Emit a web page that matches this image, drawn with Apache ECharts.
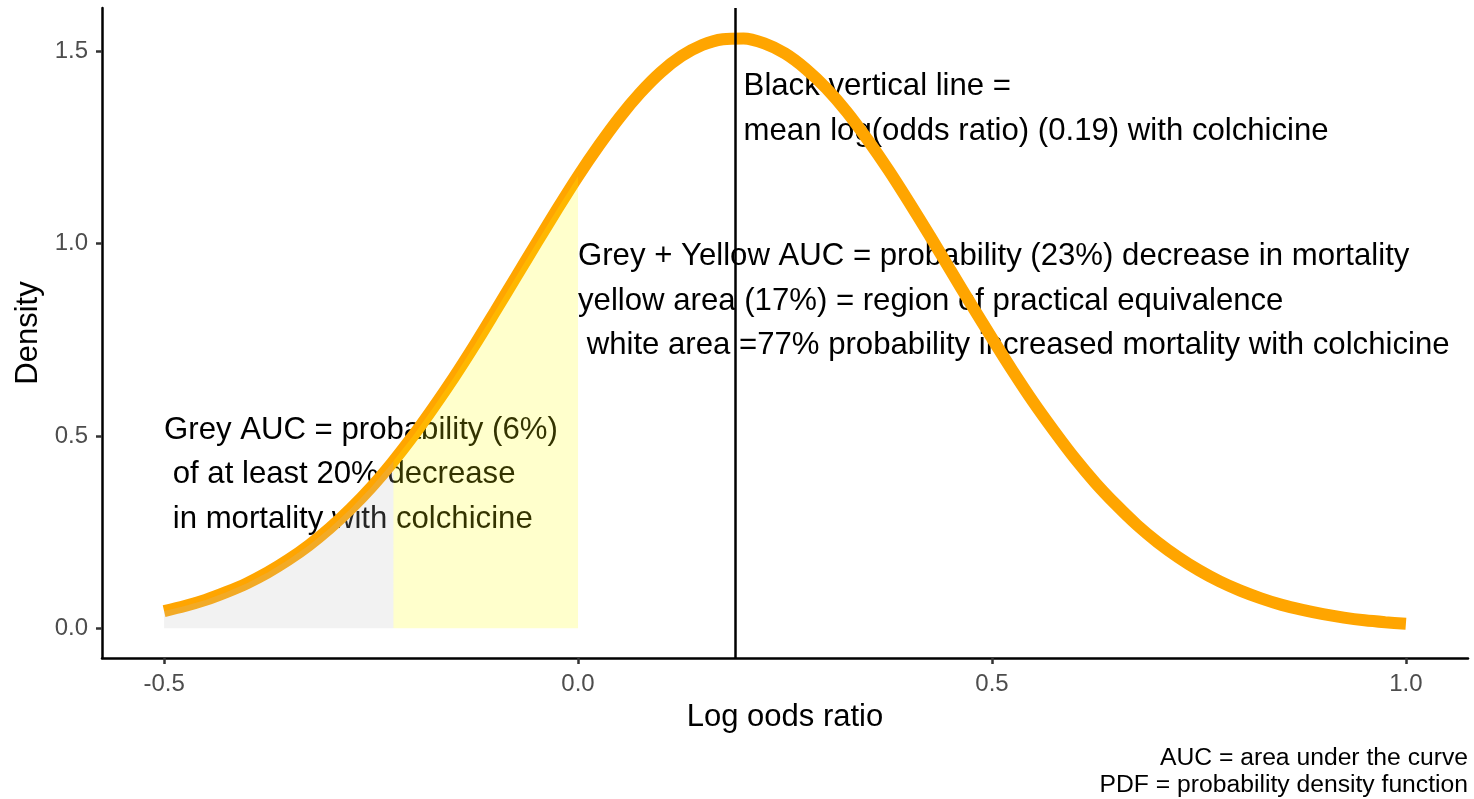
<!DOCTYPE html>
<html>
<head>
<meta charset="utf-8">
<script src="https://cdn.jsdelivr.net/npm/echarts@6/dist/echarts.min.js"></script>
<style>
html,body{margin:0;padding:0;background:#fff;}
#chart{width:1474px;height:799px;}
</style>
</head>
<body>
<div id="chart"></div>
<script>
// ---- data ----
const logOddsRatio = [-0.5,-0.475,-0.45,-0.425,-0.4,-0.375,-0.35,-0.325,-0.3,-0.275,-0.25,-0.225,-0.2,-0.175,-0.15,-0.125,-0.1,-0.075,-0.05,-0.025,0,
  0.025,0.05,0.075,0.1,0.125,0.15,0.175,0.2,0.225,0.25,0.275,0.3,0.325,0.35,0.375,0.4,0.425,0.45,0.475,0.5,
  0.525,0.55,0.575,0.6,0.625,0.65,0.675,0.7,0.725,0.75,0.775,0.8,0.825,0.85,0.875,0.9,0.925,0.95,0.975,1.0];
const density = [0.045,0.058,0.074,0.094,0.117,0.145,0.178,0.216,0.260,0.310,0.366,0.429,0.498,0.573,0.652,0.736,0.824,0.913,1.002,1.090,1.175,
  1.254,1.327,1.391,1.445,1.487,1.516,1.531,1.533,1.520,1.494,1.454,1.403,1.341,1.269,1.191,1.107,1.020,0.930,0.841,0.754,
  0.669,0.588,0.513,0.442,0.378,0.321,0.269,0.224,0.185,0.151,0.122,0.098,0.078,0.061,0.048,0.037,0.028,0.021,0.016,0.012];
const greyBoundary = [-0.223, 0.435];   // log(0.8): 20% decrease
const yellowUpper = 0;                  // no effect
const meanLogOR = 0.193;
const xTicks = [-0.5, 0.0, 0.5, 1.0];
const yTicks = [0.0, 0.5, 1.0, 1.5];
const annotationTexts = [
  "Black vertical line =\nmean log(odds ratio) (0.19) with colchicine",
  "Grey + Yellow AUC = probability (23%) decrease in mortality\nyellow area (17%) = region of practical equivalence\n white area =77% probability increased mortality with colchicine",
  "Grey AUC = probability (6%)\n of at least 20% decrease\n in mortality with colchicine"
];
const annotationAnchors = [[0.2, 1.35], [0.0, 0.85], [-0.5, 0.40]];
const captionLines = ["AUC = area under the curve", "PDF = probability density function"];
const xTitle = "Log oods ratio";
const yTitle = "Density";

// ---- build series data ----
const curve = logOddsRatio.map((x, i) => [x, density[i]]);
const greyData = curve.filter(p => p[0] < greyBoundary[0]).concat([greyBoundary]);
const yellowData = [greyBoundary].concat(curve.filter(p => p[0] > greyBoundary[0] && p[0] <= yellowUpper));

const FONT = '"Liberation Sans", Arial, Helvetica, sans-serif';
const chart = echarts.init(document.getElementById('chart'), null, { renderer: 'canvas' });

chart.setOption({
  animation: false,
  backgroundColor: '#ffffff',
  grid: { left: 102, right: 6, top: 8, bottom: 141, containLabel: false, outerBoundsMode: 'none' },
  xAxis: {
    type: 'value', min: -0.575, max: 1.075,
    name: xTitle, nameLocation: 'middle', nameGap: 44,
    nameTextStyle: { fontSize: 31, color: '#000', fontFamily: FONT },
    axisLine: { show: true, onZero: false, lineStyle: { color: '#000', width: 2.5 } },
    axisTick: { show: true, customValues: xTicks, length: 6, lineStyle: { color: '#333', width: 2.5 } },
    axisLabel: { customValues: xTicks, formatter: v => Number(v).toFixed(1), color: '#4d4d4d', fontSize: 24, fontFamily: FONT, margin: 14 },
    splitLine: { show: false }
  },
  yAxis: {
    type: 'value', min: -0.077, max: 1.612,
    name: yTitle, nameLocation: 'middle', nameGap: 48, nameRotate: 90,
    nameTextStyle: { fontSize: 31, color: '#000', fontFamily: FONT },
    axisLine: { show: true, onZero: false, lineStyle: { color: '#000', width: 2.5 } },
    axisTick: { show: true, customValues: yTicks, length: 6, lineStyle: { color: '#333', width: 2.5 } },
    axisLabel: { customValues: yTicks, formatter: v => Number(v).toFixed(1), color: '#4d4d4d', fontSize: 24, fontFamily: FONT, margin: 14 },
    splitLine: { show: false }
  },
  series: [
    {
      type: 'line', z: 2, silent: true, showSymbol: false, smooth: 0.3,
      data: curve,
      lineStyle: { color: '#FFA500', width: 12, cap: 'butt' }
    },
    {
      type: 'line', z: 3, silent: true, showSymbol: false,
      data: greyData,
      lineStyle: { width: 0, opacity: 0 },
      areaStyle: { color: 'rgba(190,190,190,0.2)', opacity: 1, origin: 0 }
    },
    {
      type: 'line', z: 3, silent: true, showSymbol: false,
      data: yellowData,
      lineStyle: { width: 0, opacity: 0 },
      areaStyle: { color: 'rgba(255,255,0,0.2)', opacity: 1, origin: 0 }
    },
    {
      type: 'line', z: 4, silent: true, showSymbol: false,
      data: [],
      markLine: {
        silent: true, symbol: ['none', 'none'], label: { show: false },
        lineStyle: { color: '#000', width: 2.5, type: 'solid' },
        data: [{ xAxis: meanLogOR }]
      }
    }
  ]
});

// Annotations placed at data coordinates through the chart's own scales,
// drawn underneath the series (as in the original, where the shading covers the text).
const annGraphics = annotationAnchors.map((a, i) => {
  const px = chart.convertToPixel({ gridIndex: 0 }, a);
  return {
    type: 'text', z: 0, zlevel: 0, silent: true, x: px[0], y: px[1],
    style: { text: annotationTexts[i], textAlign: 'left', textVerticalAlign: 'middle',
             fontSize: 31.15, lineHeight: 44.5, fontFamily: FONT, fill: '#000' }
  };
});
const capGraphics = captionLines.map((t, i) => ({
  type: 'text', z: 0, silent: true, x: 1468, y: 758.5 + i * 27,
  style: { text: t, textAlign: 'right', textVerticalAlign: 'middle', fontSize: 24.7, fontFamily: FONT, fill: '#000' }
}));
chart.setOption({ graphic: annGraphics.concat(capGraphics) });
</script>
</body>
</html>
